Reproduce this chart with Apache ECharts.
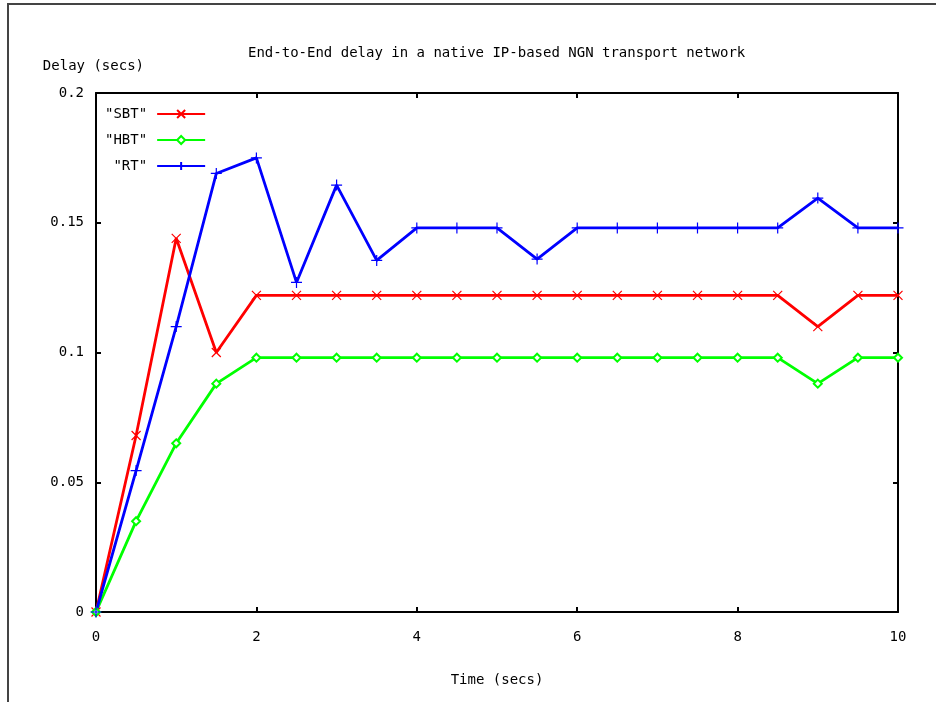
<!DOCTYPE html>
<html>
<head>
<meta charset="utf-8">
<script src="https://cdn.jsdelivr.net/npm/echarts@6/dist/echarts.min.js"></script>
<style>html,body{margin:0;padding:0;background:#fff}#c{width:936px;height:702px}</style>
</head>
<body>
<div id="c"></div>
<script>
var times = [0, 0.5, 1, 1.5, 2, 2.5, 3, 3.5, 4, 4.5, 5, 5.5, 6, 6.5, 7, 7.5, 8, 8.5, 9, 9.5, 10];
var sbt = [0, 0.068, 0.144, 0.1, 0.122, 0.122, 0.122, 0.122, 0.122, 0.122, 0.122, 0.122, 0.122, 0.122, 0.122, 0.122, 0.122, 0.122, 0.11, 0.122, 0.122];
var hbt = [0, 0.035, 0.065, 0.088, 0.098, 0.098, 0.098, 0.098, 0.098, 0.098, 0.098, 0.098, 0.098, 0.098, 0.098, 0.098, 0.098, 0.098, 0.088, 0.098, 0.098];
var rt  = [0, 0.0545, 0.11, 0.169, 0.175, 0.127, 0.1645, 0.1355, 0.148, 0.148, 0.148, 0.136, 0.148, 0.148, 0.148, 0.148, 0.148, 0.148, 0.1595, 0.148, 0.148];
var seriesNames = ['"SBT"', '"HBT"', '"RT"'];
var titleText = 'End-to-End delay in a native IP-based NGN transport network';
var xName = 'Time (secs)';
var yName = 'Delay (secs)';

var FONT = '"DejaVu Sans Mono", "Liberation Mono", monospace';
function pairs(v){ return times.map(function(t,i){ return [t, v[i]]; }); }
var crossPath = 'path://M0,0L10,10M10,0L0,10';
var plusPath = 'path://M5,0L5,10M0,5L10,5';

var chart = echarts.init(document.getElementById('c'));
var axisCommon = {
  axisLine: {show: true, onZero: false, lineStyle: {color: '#000', width: 2}},
  axisTick: {show: true, inside: true, length: 5, lineStyle: {color: '#000', width: 2}},
  splitLine: {show: false}
};
function mkSeries(name, data, color, symbol, size){
  return {
    name: name, type: 'line', data: pairs(data),
    symbol: symbol, symbolSize: size, showSymbol: true,
    lineStyle: {color: color, width: 2.8},
    itemStyle: {color: color, borderColor: color, borderWidth: 1.2},
    animation: false, z: 3
  };
}
chart.setOption({
  backgroundColor: '#fff',
  animation: false,
  title: {
    text: titleText, left: 243, top: 41,
    textStyle: {fontFamily: FONT, fontSize: 14, fontWeight: 'normal', color: '#000'}
  },
  grid: {left: 96, right: 38, top: 93, bottom: 90, containLabel: false},
  legend: {
    orient: 'vertical', left: 100, top: 102, align: 'right',
    itemWidth: 48, itemHeight: 10, itemGap: 12,
    data: seriesNames,
    textStyle: {fontFamily: FONT, fontSize: 14, color: '#000', width: 45, align: 'right', padding: [0, 5, 0, 0]}
  },
  xAxis: [
    Object.assign({
      type: 'value', min: 0, max: 10, interval: 2, position: 'bottom',
      name: xName, nameLocation: 'middle', nameGap: 61,
      nameTextStyle: {fontFamily: FONT, fontSize: 14, color: '#000'},
      axisLabel: {fontFamily: FONT, fontSize: 14, color: '#000', margin: 18}
    }, axisCommon),
    Object.assign({
      type: 'value', min: 0, max: 10, interval: 2, position: 'top',
      axisLabel: {show: false}
    }, axisCommon)
  ],
  yAxis: [
    Object.assign({
      type: 'value', min: 0, max: 0.2, interval: 0.05, position: 'left',
      name: yName, nameLocation: 'end', nameGap: 20,
      nameTextStyle: {fontFamily: FONT, fontSize: 14, color: '#000', align: 'right', padding: [0, -48, 0, 0]},
      axisLabel: {fontFamily: FONT, fontSize: 14, color: '#000', margin: 12}
    }, axisCommon),
    Object.assign({
      type: 'value', min: 0, max: 0.2, interval: 0.05, position: 'right',
      axisLabel: {show: false}
    }, axisCommon)
  ],
  graphic: [{
    type: 'rect', silent: true, z: 100,
    shape: {x: 8, y: 4, width: 1200, height: 1200},
    style: {fill: 'none', stroke: '#444', lineWidth: 2}
  }],
  series: [
    mkSeries(seriesNames[0], sbt, '#ff0000', crossPath, 9),
    mkSeries(seriesNames[1], hbt, '#00ff00', 'emptyDiamond', 8),
    mkSeries(seriesNames[2], rt, '#0000ff', plusPath, 11)
  ]
});
</script>
</body>
</html>
